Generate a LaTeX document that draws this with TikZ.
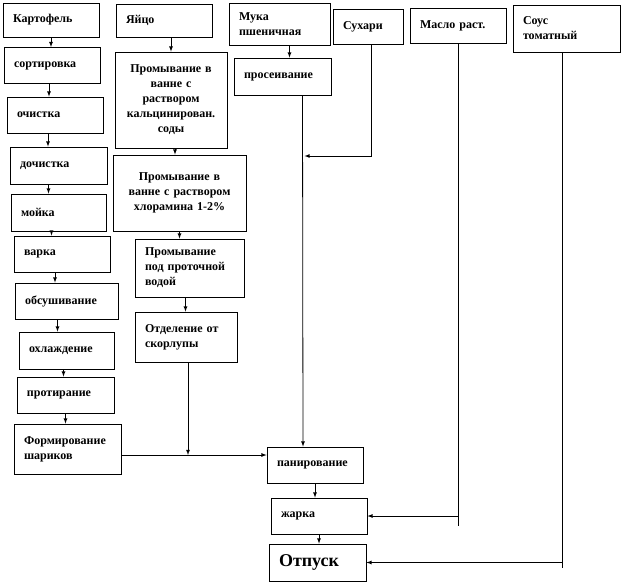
\documentclass[tikz,border=0pt]{standalone}
\usepackage{fontspec}
\setmainfont{Liberation Serif}
\usetikzlibrary{calc}

\begin{document}
\begin{tikzpicture}[x=1pt, y=-1pt, line width=0.8pt,
    stage/.style={draw, inner sep=0pt, minimum width=#1, text width=#1-20pt,
                  minimum height=36pt, align=left,
                  font=\fontsize{12}{15}\selectfont\bfseries},
    flow/.style={-latex}]
  \useasboundingbox (0,0) rectangle (623,583);

  % potato line
  \node[stage=96pt, minimum height=34pt] (kart)    at (51,20)     {Картофель};
  \node[stage=96pt]                      (sort)    at (52,65.5)   {сортировка};
  \node[stage=96pt]                      (ochist)  at (55,115)    {очистка};
  \node[stage=97pt, minimum height=37pt] (dochist) at (58.5,165.5){дочистка};
  \node[stage=95pt, minimum height=37pt] (moika)   at (58.5,212.5){мойка};
  \node[stage=96pt]                      (varka)   at (62,254)    {варка};
  \node[stage=103pt]                     (obsush)  at (66.5,301)  {обсушивание};
  \node[stage=95pt, minimum height=37pt] (ohlazh)  at (66.5,350.5){охлаждение};
  \node[stage=97pt]                      (protir)  at (65.5,395)  {протирание};
  \node[stage=107pt, minimum height=50pt] (form)   at (67.5,449)  {Формирование\\шариков};

  % egg line
  \node[stage=96pt, minimum height=33pt] (egg)   at (164,20.5) {Яйцо};
  \node[stage=112pt, minimum height=96pt, align=center] (prom1) at (171,100)
    {Промывание в\\ванне с\\раствором\\кальцинирован.\\соды};
  \node[stage=133pt, minimum height=76pt, align=center] (prom2) at (179.5,193)
    {Промывание в\\ванне с раствором\\хлорамина 1-2\%};
  \node[stage=109pt, minimum height=58pt] (prom3) at (189.5,268)
    {Промывание\\под проточной\\водой};
  \node[stage=102pt, minimum height=50pt] (otdel) at (186,337)
    {Отделение от\\скорлупы};

  % top row
  \node[stage=101pt, minimum height=42pt] (muka)   at (279.5,24)  {Мука\\пшеничная};
  \node[stage=97pt, minimum height=37pt]  (prosev) at (282.5,76.5){просеивание};
  \node[stage=70pt, minimum height=35pt]  (suhari) at (368,26.5)  {Сухари};
  \node[stage=96pt, minimum height=35pt]  (maslo)  at (458,25.5)  {Масло раст.};
  \node[stage=107pt, minimum height=47pt] (sous)   at (566.5,28.5){Соус\\томатный};

  % final steps
  \node[stage=96pt]                      (panir)  at (315,465)   {панирование};
  \node[stage=96pt]                      (zharka) at (319,516)   {жарка};
  \node[stage=97pt, minimum height=37pt, font=\fontsize{18}{20}\selectfont\bfseries]
                                         (otpusk) at (317.5,562.5) {Отпуск};

  \coordinate (join)  at (188,455);
  \coordinate (sjoin) at (371,156);

  % potato arrows
  \draw[flow] (kart.south) -- (kart.south |- sort.north);
  \draw[flow] ([xshift=-3pt]sort.south) -- ([xshift=-3pt]sort.south |- ochist.north);
  \draw[flow] ([xshift=-7pt]ochist.south) -- ([xshift=-7pt]ochist.south |- dochist.north);
  \draw[flow] ([xshift=-10pt]dochist.south) -- ([xshift=-10pt]dochist.south |- moika.north);
  \draw[flow] ([xshift=-7pt]moika.south) -- ([xshift=-7pt]moika.south |- varka.north);
  \draw[flow] ([xshift=-7pt]varka.south) -- ([xshift=-7pt]varka.south |- obsush.north);
  \draw[flow] ([xshift=-9pt]obsush.south) -- ([xshift=-9pt]obsush.south |- ohlazh.north);
  \draw[flow] ([xshift=-3pt]ohlazh.south) -- ([xshift=-3pt]ohlazh.south |- protir.north);
  \draw[flow] (protir.south) -- (protir.south |- form.north);
  \draw[flow] (form.east |- join) -- (panir.west |- join);

  % egg arrows
  \draw[flow] ([xshift=7pt]egg.south) -- ([xshift=7pt]egg.south |- prom1.north);
  \draw[flow] ([xshift=4pt]prom1.south) -- ([xshift=4pt]prom1.south |- prom2.north);
  \draw[flow] (prom2.south) -- (prom2.south |- prom3.north);
  \draw[flow] ([xshift=-4pt]prom3.south) -- ([xshift=-4pt]prom3.south |- otdel.north);
  \draw[flow] (otdel.south -| join) -- (join);

  % flour, crumbs, oil, sauce
  \draw[flow] ([xshift=10pt]muka.south) -- ([xshift=10pt]muka.south |- prosev.north);
  \draw[flow] ([xshift=20pt]prosev.south) -- ([xshift=-12pt]panir.north);
  \draw[flow] (suhari.south -| sjoin) -- (sjoin) -- ([xshift=22pt]prosev.south |- sjoin);
  \draw (maslo.south) -- ++(0,483);
  \draw[flow] (maslo.south |- zharka.east) -- (zharka.east);
  \draw ([xshift=-4pt]sous.south) -- ++(0,516);
  \draw[flow] ([xshift=-4pt]sous.south |- otpusk.east) -- (otpusk.east);

  % last steps
  \draw[flow] (panir.south) -- (panir.south |- zharka.north);
  \draw[flow] (zharka.south) -- (zharka.south |- otpusk.north);
\end{tikzpicture}
\end{document}
